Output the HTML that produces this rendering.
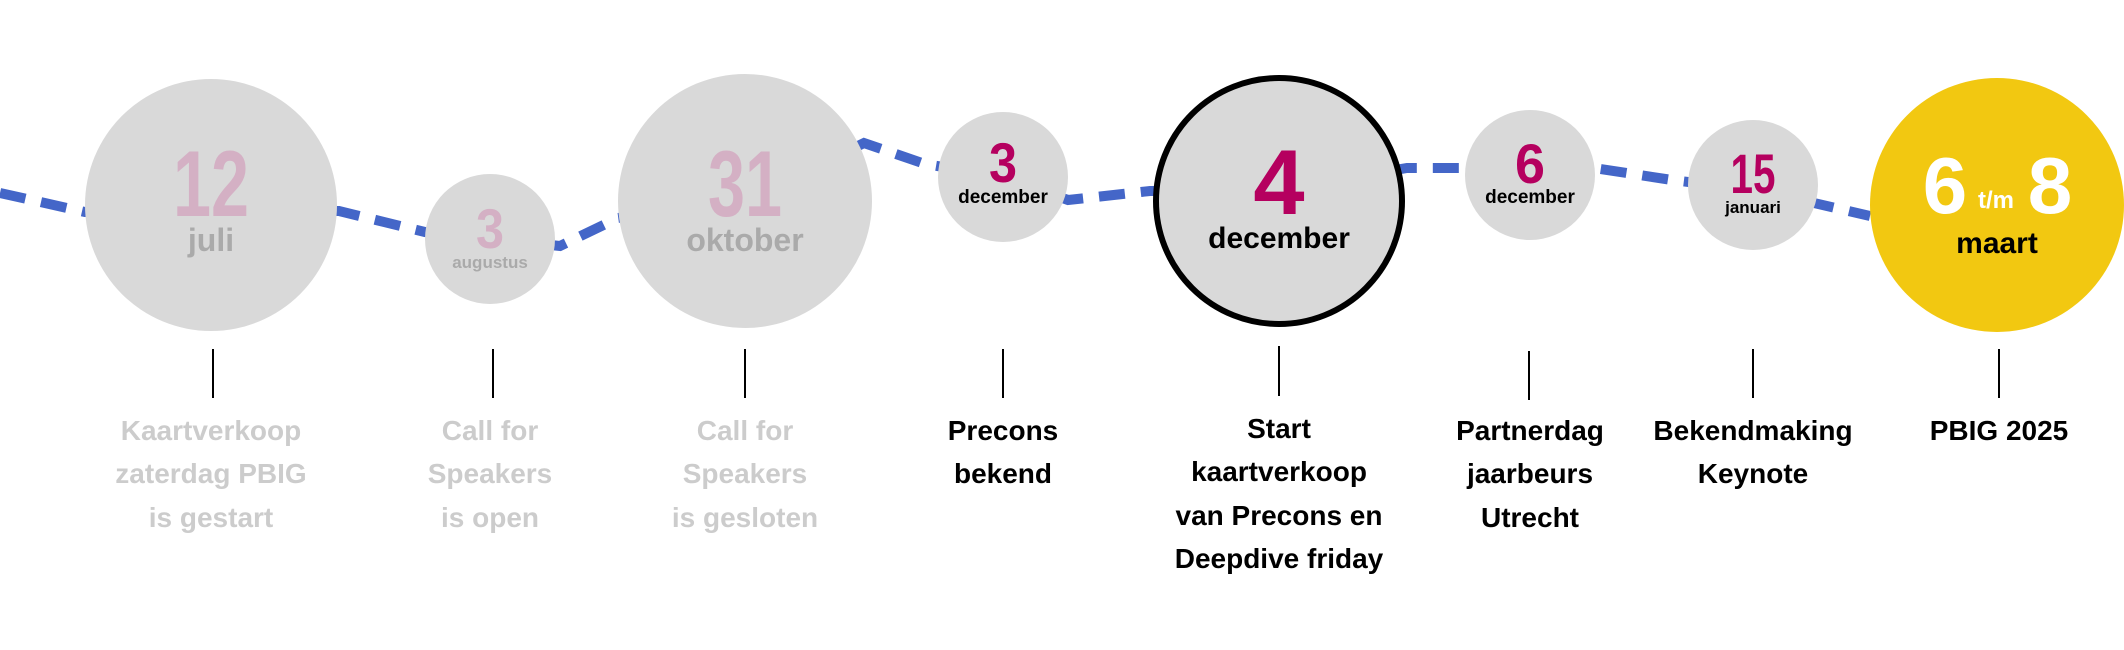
<!DOCTYPE html>
<html><head><meta charset="utf-8"><style>
html,body{margin:0;padding:0;background:#fff;width:2124px;height:650px;overflow:hidden}
text{font-family:"Liberation Sans",sans-serif;font-weight:bold}
</style></head><body>
<svg width="2124" height="650" viewBox="0 0 2124 650" xmlns="http://www.w3.org/2000/svg">
<polyline fill="none" stroke="#4466c8" stroke-width="10" stroke-dasharray="26,16" points="0,193 85,212 339,211 425,232 560,246 618,218 745,201 864,143 925,164 1003,177 1068,200 1150,191 1279,190 1407,168 1465,168 1530,168 1594,168 1672,180 1753,190 1814,203 1870,216"/>
<circle cx="211" cy="205" r="126" fill="#d9d9d9"/>
<circle cx="490" cy="239" r="65" fill="#d9d9d9"/>
<circle cx="745" cy="201" r="127" fill="#d9d9d9"/>
<circle cx="1003" cy="177" r="65" fill="#d9d9d9"/>
<circle cx="1279" cy="201" r="123" fill="#d9d9d9" stroke="#000" stroke-width="6"/>
<circle cx="1530" cy="175" r="65" fill="#d9d9d9"/>
<circle cx="1753" cy="185" r="65" fill="#d9d9d9"/>
<circle cx="1997" cy="205" r="127" fill="#f2c811"/>

<g text-anchor="middle">
<text x="211" y="216" font-size="94" fill="#d4b0c4" textLength="76" lengthAdjust="spacingAndGlyphs">12</text>
<text x="211" y="251" font-size="32" fill="#aaa">juli</text>
<text x="490" y="248" font-size="56" fill="#d4b0c4" textLength="28" lengthAdjust="spacingAndGlyphs">3</text>
<text x="490" y="268" font-size="17" fill="#aaa">augustus</text>
<text x="745" y="216" font-size="94" fill="#d4b0c4" textLength="74" lengthAdjust="spacingAndGlyphs">31</text>
<text x="745" y="251" font-size="32" fill="#aaa">oktober</text>
<text x="1003" y="182" font-size="56" fill="#b5005f" textLength="28" lengthAdjust="spacingAndGlyphs">3</text>
<text x="1003" y="203" font-size="19" fill="#000">december</text>
<text x="1279" y="214" font-size="92" fill="#b5005f">4</text>
<text x="1279" y="248" font-size="30" fill="#000">december</text>
<text x="1530" y="183" font-size="56" fill="#b5005f" textLength="30" lengthAdjust="spacingAndGlyphs">6</text>
<text x="1530" y="203" font-size="19" fill="#000">december</text>
<text x="1753" y="193" font-size="56" fill="#b5005f" textLength="45" lengthAdjust="spacingAndGlyphs">15</text>
<text x="1753" y="213" font-size="17" fill="#000">januari</text>
<text x="1945" y="213" font-size="80" fill="#fff">6</text>
<text x="1996" y="208" font-size="24" fill="#fff">t/m</text>
<text x="2050" y="213" font-size="80" fill="#fff">8</text>
<text x="1997" y="253" font-size="30" fill="#000">maart</text>
</g>

<g stroke="#000" stroke-width="2">
<line x1="213" y1="349" x2="213" y2="398"/>
<line x1="493" y1="349" x2="493" y2="398"/>
<line x1="745" y1="349" x2="745" y2="398"/>
<line x1="1003" y1="349" x2="1003" y2="398"/>
<line x1="1279" y1="346" x2="1279" y2="396"/>
<line x1="1529" y1="351" x2="1529" y2="400"/>
<line x1="1753" y1="349" x2="1753" y2="398"/>
<line x1="1999" y1="349" x2="1999" y2="398"/>
</g>

<g text-anchor="middle" font-size="28">
<g fill="#cccccc">
<text x="211" y="440">Kaartverkoop</text>
<text x="211" y="483">zaterdag PBIG</text>
<text x="211" y="527">is gestart</text>
<text x="490" y="440">Call for</text>
<text x="490" y="483">Speakers</text>
<text x="490" y="527">is open</text>
<text x="745" y="440">Call for</text>
<text x="745" y="483">Speakers</text>
<text x="745" y="527">is gesloten</text>
</g>
<g fill="#000">
<text x="1003" y="440">Precons</text>
<text x="1003" y="483">bekend</text>
<text x="1279" y="438">Start</text>
<text x="1279" y="481">kaartverkoop</text>
<text x="1279" y="525">van Precons en</text>
<text x="1279" y="568">Deepdive friday</text>
<text x="1530" y="440">Partnerdag</text>
<text x="1530" y="483">jaarbeurs</text>
<text x="1530" y="527">Utrecht</text>
<text x="1753" y="440">Bekendmaking</text>
<text x="1753" y="483">Keynote</text>
<text x="1999" y="440">PBIG 2025</text>
</g>
</g>
</svg>
</body></html>
